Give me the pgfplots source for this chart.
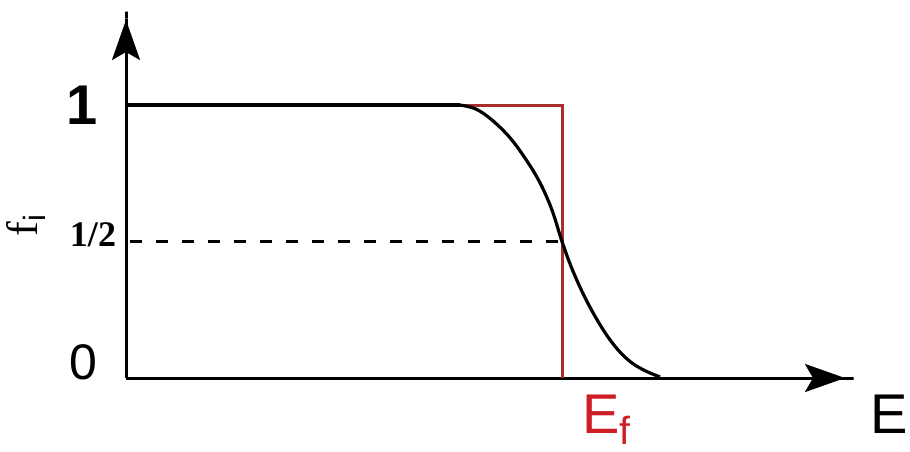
\documentclass[border=0pt]{standalone}
\usepackage{pgfplots}
\pgfplotsset{compat=1.18}
\usetikzlibrary{arrows.meta}
\usepackage{fontspec}
\setmainfont{Liberation Sans}
\newfontfamily\seriffont{Liberation Serif}
\definecolor{efred}{RGB}{205,30,38}
\definecolor{stepred}{RGB}{168,45,45}

% Fermi-Dirac occupation near the Fermi energy (E measured from the f axis)
\pgfplotstableread{
E    f
334  1.000
350  0.985
366  0.945
384  0.880
400  0.800
414  0.715
426  0.615
436  0.500
446  0.400
458  0.302
470  0.220
482  0.150
494  0.095
506  0.055
520  0.025
534  0.004
}\fermi

\begin{document}
\begin{tikzpicture}
\begin{axis}[
  at={(63pt,36.5pt)}, anchor=south west,
  scale only axis,
  width=364.5pt, height=184pt,
  xmin=0, xmax=729, ymin=0, ymax=1.348,
  axis lines=left,
  axis line style={line width=1.5pt,
    -{Stealth[length=20pt,width=14pt,inset=4pt]Rectangle[length=5pt,width=1.5pt]}},
  xtick=\empty, ytick=\empty,
  clip=false,
]
  % step function at T = 0
  \addplot[stepred, line width=1.5pt] coordinates {(334,1) (436,1) (436,0)};
  % dashed level at f = 1/2
  \addplot[black, line width=1.5pt, dash pattern=on 6pt off 7pt] coordinates {(4,0.5) (436,0.5)};
  % fully occupied states below the smearing region
  \addplot[black, line width=1.6pt] coordinates {(0,1) (334,1)};
  % occupation curve
  \addplot[black, line width=1.6pt, smooth, tension=0.6] table[x=E, y=f] {\fermi};

  \node[font=\fontsize{28}{28}\selectfont\bfseries] at (axis cs:-44,1.0) {1};
  \node[font=\seriffont\fontsize{18}{18}\selectfont\bfseries] at (axis cs:-33,0.524) {1/2};
  \node[font=\fontsize{25}{25}\selectfont] at (axis cs:-43,0.059) {0};
  \node[font=\seriffont\fontsize{22}{22}\selectfont, rotate=90] at (axis cs:-100,0.56) {f$_\mathrm{i}$};
  \node[anchor=base west, inner sep=0pt, text=efred, font=\fontsize{28}{28}\selectfont] at (axis cs:456,-0.2015) {E\textsubscript{f}};
  \node[anchor=base west, inner sep=0pt, font=\fontsize{28}{28}\selectfont] at (axis cs:744,-0.2015) {E};
\end{axis}
\pgfresetboundingbox
\path[use as bounding box] (0,0) rectangle (455pt,225.5pt);
\end{tikzpicture}
\end{document}
